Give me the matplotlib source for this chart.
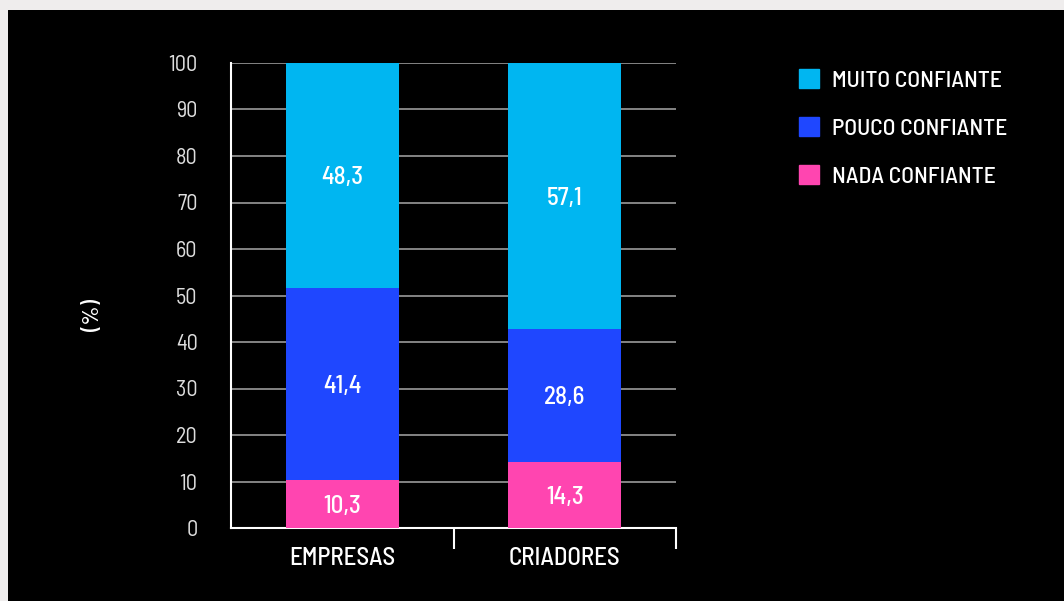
import matplotlib
matplotlib.use("Agg")
import matplotlib.pyplot as plt
import matplotlib.patches as mpatches
import numpy as np

categorias = ["EMPRESAS", "CRIADORES"]
series = ["MUITO CONFIANTE", "POUCO CONFIANTE", "NADA CONFIANTE"]
nada = [10.3, 14.3]
pouco = [41.4, 28.6]
muito = [48.3, 57.1]
cores = {"MUITO CONFIANTE": "#00B6F1", "POUCO CONFIANTE": "#1F47FF", "NADA CONFIANTE": "#FF45B0"}
yticks = [0, 10, 20, 30, 40, 50, 60, 70, 80, 90, 100]

plt.rcParams["font.family"] = ["Barlow Semi Condensed", "DejaVu Sans"]

fig = plt.figure(figsize=(10.64, 6.01), dpi=100, facecolor="#EFEDED")
# fundo preto (moldura cinza em cima e à esquerda)
bg = fig.add_axes([8 / 1064, 0, 1 - 8 / 1064, 591 / 601], zorder=-5)
bg.set_facecolor("black")
bg.axis("off")
bg.add_patch(mpatches.Rectangle((0, 0), 1, 1, transform=bg.transAxes, color="black"))

ax = fig.add_axes([231 / 1064, (601 - 528) / 601, 445 / 1064, 465 / 601])
ax.set_facecolor("black")
x = np.arange(len(categorias))
w = 0.51

ax.bar(x, nada, w, color=cores["NADA CONFIANTE"], zorder=3)
ax.bar(x, pouco, w, bottom=nada, color=cores["POUCO CONFIANTE"], zorder=3)
base = np.array(nada) + np.array(pouco)
ax.bar(x, muito, w, bottom=base, color=cores["MUITO CONFIANTE"], zorder=3)

def fmt(v):
    return f"{v:.1f}".replace(".", ",")

for i in range(len(categorias)):
    for y, v in [(nada[i] / 2, nada[i]), (nada[i] + pouco[i] / 2, pouco[i]),
                 (base[i] + muito[i] / 2, muito[i])]:
        ax.text(x[i], y, fmt(v), ha="center", va="center_baseline", color="white",
                fontsize=18, fontweight="medium", zorder=4)

ax.set_xlim(-0.5, 1.5)
ax.set_ylim(0, 100)
ax.set_yticks(yticks)
ax.set_yticklabels([str(t) for t in yticks], color="#DDDDDD", fontsize=16, fontweight="normal")
ax.tick_params(axis="y", length=0, pad=24)
ax.yaxis.grid(True, color="#9A9A9A", linewidth=1.2, zorder=1)
ax.set_axisbelow(True)

ax.set_xticks([0.5, 1.5])
ax.set_xticklabels([])
ax.set_xticks(x, minor=True)
ax.set_xticklabels(categorias, minor=True, color="white", fontsize=18, fontweight="medium")
ax.tick_params(axis="x", which="major", length=15, width=1.5, color="white", direction="out")
ax.tick_params(axis="x", which="minor", length=0, pad=14)

for s in ["top", "right"]:
    ax.spines[s].set_visible(False)
for s in ["left", "bottom"]:
    ax.spines[s].set_color("white")
    ax.spines[s].set_linewidth(1.5)

fig.text(93 / 1064, 1 - 315 / 601, "(%)", rotation=90, ha="center", va="center",
         color="white", fontsize=17, fontweight="medium")

handles = [mpatches.Patch(color=cores[s], label=s) for s in series]
fig.legend(handles=handles, loc="upper left", bbox_to_anchor=(778 / 1064, 1 - 48 / 601),
           frameon=False, prop={"size": 17, "weight": "medium"}, labelcolor="white",
           handlelength=0.85, handleheight=0.85, handletextpad=0.55, labelspacing=1.12)

fig.savefig("out.png", dpi=100, facecolor=fig.get_facecolor())
